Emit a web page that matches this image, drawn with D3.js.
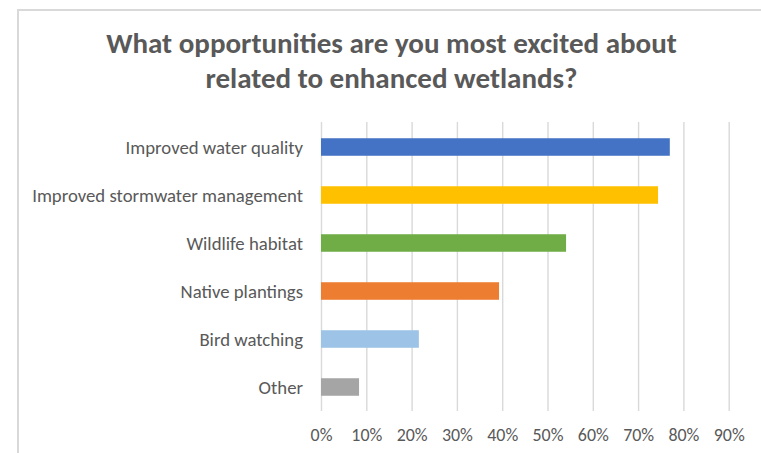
<!DOCTYPE html>
<html>
<head>
<meta charset="utf-8">
<script src="https://cdn.jsdelivr.net/npm/d3@7"></script>
<style>
  html, body { margin: 0; padding: 0; background: #fff; }
  svg { display: block; }
  text { font-family: Carlito, Lato, "Open Sans", sans-serif; fill: #595959; }
</style>
</head>
<body>
<svg id="chart" width="761" height="453"></svg>
<script>
const titleLines = ["What opportunities are you most excited about", "related to enhanced wetlands?"];
const categories = ["Improved water quality", "Improved stormwater management", "Wildlife habitat", "Native plantings", "Bird watching", "Other"];
const values = [0.770, 0.744, 0.541, 0.393, 0.216, 0.084];
const colors = ["#4472C4", "#FFC000", "#70AD47", "#ED7D31", "#9DC3E6", "#A5A5A5"];
const tickValues = [0, 0.1, 0.2, 0.3, 0.4, 0.5, 0.6, 0.7, 0.8, 0.9];

const svg = d3.select("#chart");
const W = 761, H = 453;
const plot = { left: 321, right: 728.7, top: 122, bottom: 411 };

// outer border (top and left visible)
svg.append("path")
  .attr("d", `M18,${H} L18,10 L${W},10`)
  .attr("fill", "none")
  .attr("stroke", "#d9d9d9")
  .attr("stroke-width", 2);

const x = d3.scaleLinear().domain([0, 0.9]).range([plot.left, plot.right]);
const y = d3.scaleBand().domain(categories).range([plot.top + 1, plot.bottom])
  .paddingInner(0.635).paddingOuter(0.3175);

// gridlines + tick labels via axis
const xAxis = d3.axisBottom(x)
  .tickValues(tickValues)
  .tickFormat(d3.format(".0%"))
  .tickSizeInner(-(plot.bottom - plot.top))
  .tickSizeOuter(0)
  .tickPadding(0);

const gx = svg.append("g")
  .attr("transform", `translate(0,${plot.bottom})`)
  .call(xAxis);
gx.select(".domain").remove();
gx.selectAll(".tick line").attr("stroke", "#d9d9d9").attr("stroke-width", 1.4);
gx.selectAll(".tick text")
  .attr("y", 30)
  .attr("dy", 0)
  .attr("font-size", 18)
  .style("fill", "#595959");

// fit tick label size so "90%" ~ 31px wide
{
  const last = gx.selectAll(".tick text").nodes().slice(-1)[0];
  const w = last.getComputedTextLength();
  const fs = 18 * 31 / w;
  gx.selectAll(".tick text").attr("font-size", fs);
}

// bars
svg.append("g").selectAll("rect")
  .data(categories)
  .join("rect")
  .attr("x", x(0))
  .attr("y", d => y(d))
  .attr("width", (d, i) => x(values[i]) - x(0))
  .attr("height", y.bandwidth())
  .attr("fill", (d, i) => colors[i]);

// category labels
const catLabels = svg.append("g").selectAll("text")
  .data(categories)
  .join("text")
  .attr("x", 303)
  .attr("y", d => y(d) + y.bandwidth() / 2)
  .attr("dy", "0.35em")
  .attr("text-anchor", "end")
  .attr("font-size", 18)
  .text(d => d);
{
  const w = d3.max(catLabels.nodes(), n => n.getComputedTextLength());
  catLabels.attr("font-size", 18 * 271 / w);
}

// title
const title = svg.append("g").selectAll("text")
  .data(titleLines)
  .join("text")
  .attr("x", 391.5)
  .attr("y", (d, i) => 53 + i * 35)
  .attr("text-anchor", "middle")
  .attr("font-weight", "bold")
  .attr("font-size", 26)
  .text(d => d);
{
  const w = title.nodes()[0].getComputedTextLength();
  title.attr("font-size", 26 * 571 / w);
}
</script>
</body>
</html>
